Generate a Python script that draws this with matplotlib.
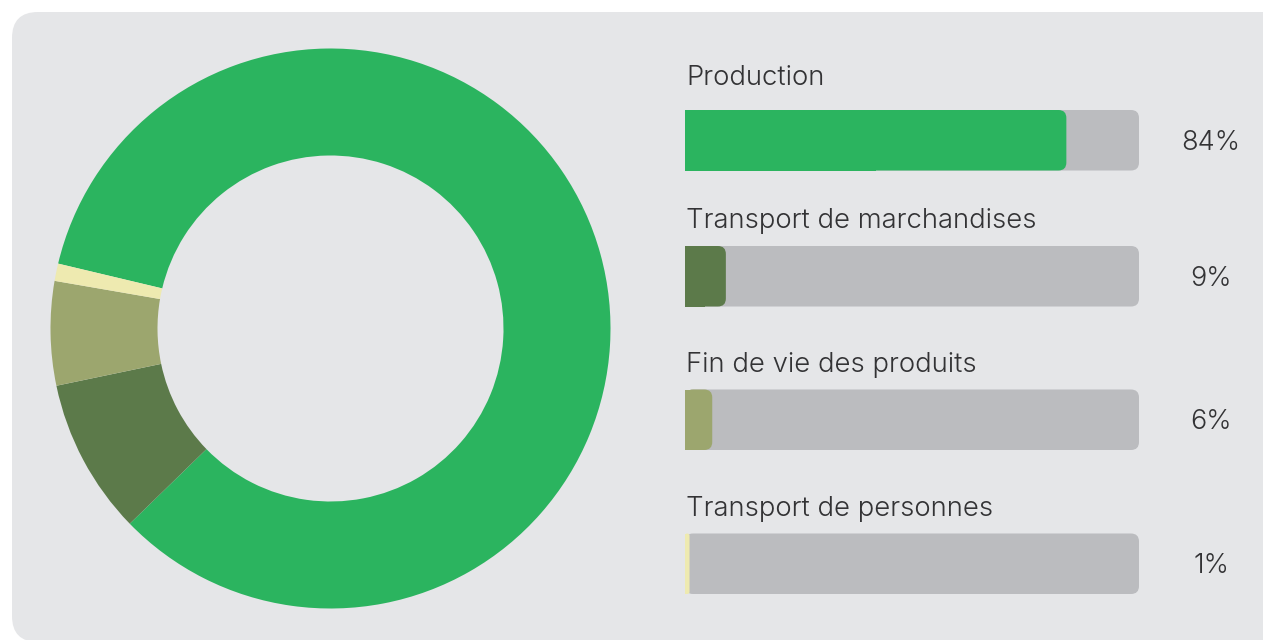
import matplotlib
matplotlib.use("Agg")
import matplotlib.pyplot as plt
from matplotlib.patches import FancyBboxPatch, Rectangle

categories = ["Production", "Transport de marchandises",
              "Fin de vie des produits", "Transport de personnes"]
values = [84, 9, 6, 1]
value_labels = ["84%", "9%", "6%", "1%"]
colors = ["#2bb45f", "#5c7a4a", "#9ca66e", "#eeeab0"]

W, H = 1263, 640
panel_color = "#e5e6e8"
track_color = "#bbbcbf"
text_color = "#333335"
font = ["Inter", "DejaVu Sans"]

fig = plt.figure(figsize=(W / 100, H / 100), dpi=100)
fig.patch.set_facecolor("white")

# background panel in pixel coords
bg = fig.add_axes([0, 0, 1, 1])
bg.set_xlim(0, W)
bg.set_ylim(H, 0)
bg.axis("off")
bg.add_patch(FancyBboxPatch((12, 12), W + 40, 630,
                            boxstyle="round,pad=0,rounding_size=26",
                            fc=panel_color, ec="none"))

# donut
cx, cy, r_out, r_in = 330.5, 328.5, 280, 173
pie_ax = fig.add_axes([(cx - r_out) / W, (H - cy - r_out) / H,
                       2 * r_out / W, 2 * r_out / H])
pie_ax.pie(values, colors=colors, startangle=166.6, counterclock=False,
           radius=1, wedgeprops=dict(width=(r_out - r_in) / r_out,
                                     edgecolor="none", linewidth=0))
pie_ax.set_xlim(-1, 1)
pie_ax.set_ylim(-1, 1)
pie_ax.axis("off")

# bars: x in percent, y in pixels
bx0, bx1 = 685, 1139
bar_ax = fig.add_axes([bx0 / W, 0, (bx1 - bx0) / W, 1])
bar_ax.set_xlim(0, 100)
bar_ax.set_ylim(H, 0)
bar_ax.axis("off")
bar_ax.patch.set_alpha(0)

px_per_unit = (bx1 - bx0) / 100
radius_px = 8
bar_h = 60.5
bar_tops = [110, 246, 389.5, 533.5]
label_base = [85, 228.5, 372, 516]
pct_x = 100 + (1211 - bx1) / px_per_unit

for i, (cat, val, lab, col) in enumerate(zip(categories, values, value_labels, colors)):
    top = bar_tops[i]
    rs = radius_px / px_per_unit
    bar_ax.add_patch(FancyBboxPatch((0, top), 100, bar_h,
                                    boxstyle=f"round,pad=0,rounding_size={rs}",
                                    mutation_aspect=px_per_unit,
                                    fc=track_color, ec="none"))
    rf = min(rs, val / 2)
    bar_ax.add_patch(FancyBboxPatch((0, top), val, bar_h,
                                    boxstyle=f"round,pad=0,rounding_size={rf}",
                                    mutation_aspect=px_per_unit,
                                    fc=col, ec="none"))
    bar_ax.add_patch(Rectangle((0, top), val / 2, bar_h, fc=col, ec="none"))
    bar_ax.text(0.2, label_base[i], cat,
                ha="left", va="baseline", fontsize=19.8, color=text_color,
                family=font, fontweight=300)
    bar_ax.text(pct_x, top + bar_h / 2 + 2.5, lab, ha="center", va="center",
                fontsize=19.5, color=text_color, family=font,
                fontweight=300, clip_on=False)

fig.savefig("out.png", dpi=100, facecolor=fig.get_facecolor())
